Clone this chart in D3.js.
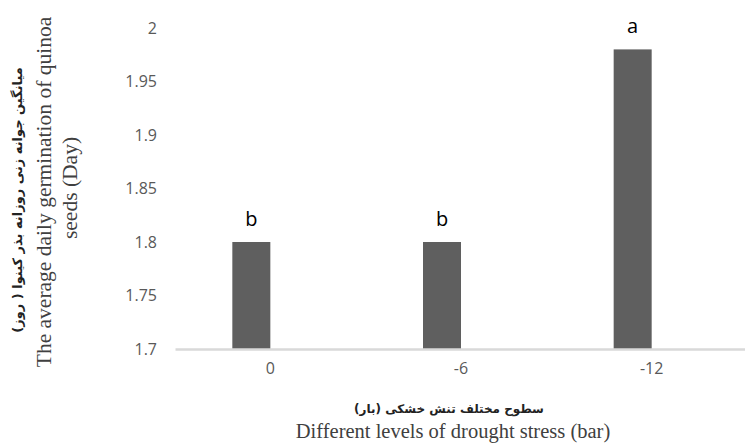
<!DOCTYPE html>
<html>
<head>
<meta charset="utf-8">
<script src="https://cdn.jsdelivr.net/npm/d3@7"></script>
<style>
  body { margin: 0; background: #fff; }
  svg { display: block; }
</style>
</head>
<body>
<svg id="chart" width="745" height="445"></svg>
<script>
// data
var categories = ["0", "-6", "-12"];
var values = [1.8, 1.8, 1.98];
var letters = ["b", "b", "a"];
var yTicks = [1.7, 1.75, 1.8, 1.85, 1.9, 1.95, 2];

var svg = d3.select("#chart");
var width = 745, height = 445;

var x = d3.scaleBand().domain(categories).range([175, 747]);
// excel style: two series slots, second one is empty
var xSub = d3.scaleBand().domain(["s1", "s2"])
  .range([x.bandwidth() / 2 - 38, x.bandwidth() / 2 + 38]);
var y = d3.scaleLinear().domain([1.7, 2]).range([349, 28]);

// y tick labels
var yAxis = d3.axisLeft(y).tickValues(yTicks).tickSize(0).tickPadding(0)
  .tickFormat(function(d) { return String(+d.toFixed(2)); });
var gy = svg.append("g").attr("transform", "translate(157,0)").call(yAxis);
gy.select(".domain").remove();
gy.selectAll("text")
  .attr("fill", "#595959")
  .style("font-family", "'Open Sans', sans-serif")
  .style("font-size", "16px");

// bars
svg.append("g").selectAll("rect")
  .data(values)
  .enter().append("rect")
  .attr("x", function(d, i) { return x(categories[i]) + xSub("s1"); })
  .attr("width", xSub.bandwidth())
  .attr("y", function(d) { return y(d); })
  .attr("height", function(d) { return y(1.7) - y(d); })
  .attr("fill", "#5f5f5f");

// significance letters
svg.append("g").selectAll("text")
  .data(values)
  .enter().append("text")
  .attr("x", function(d, i) { return x(categories[i]) + xSub("s1") + xSub.bandwidth() / 2; })
  .attr("y", function(d) { return y(d) - 16; })
  .attr("text-anchor", "middle")
  .attr("fill", "#000")
  .style("font-family", "'Open Sans', sans-serif")
  .style("font-size", "20px")
  .text(function(d, i) { return letters[i]; });

// x axis
var xAxis = d3.axisBottom(x).tickSize(0).tickPadding(14);
var gx = svg.append("g").attr("transform", "translate(0,349)").call(xAxis);
gx.select(".domain").attr("stroke", "#d9d9d9").attr("stroke-width", 2.5);
gx.selectAll("text")
  .attr("fill", "#595959")
  .style("font-family", "'Open Sans', sans-serif")
  .style("font-size", "16px");

// axis titles
svg.append("text")
  .attr("x", 449).attr("y", 413)
  .attr("text-anchor", "middle")
  .attr("direction", "rtl")
  .attr("fill", "#222")
  .style("font-family", "'DejaVu Sans', sans-serif")
  .style("font-weight", "bold")
  .style("font-size", "12px")
  .text("سطوح مختلف تنش خشکی (بار)");

svg.append("text")
  .attr("x", 453).attr("y", 438)
  .attr("text-anchor", "middle")
  .attr("fill", "#404040")
  .style("font-family", "'Liberation Serif', serif")
  .style("font-size", "20.5px")
  .text("Different levels of drought stress (bar)");

var yt = svg.append("g").attr("transform", "translate(0,193) rotate(-90)");
yt.append("text")
  .attr("x", -7).attr("y", 22)
  .attr("text-anchor", "middle")
  .attr("direction", "rtl")
  .attr("fill", "#222")
  .style("font-family", "'DejaVu Sans', sans-serif")
  .style("font-weight", "bold")
  .style("font-size", "13px")
  .text("میانگین جوانه زنی روزانه بذر کینوا ( روز)");
yt.append("text")
  .attr("x", 1).attr("y", 51)
  .attr("text-anchor", "middle")
  .attr("fill", "#404040")
  .style("font-family", "'Liberation Serif', serif")
  .style("font-size", "21.5px")
  .text("The average daily germination of quinoa");
yt.append("text")
  .attr("x", 5).attr("y", 77)
  .attr("text-anchor", "middle")
  .attr("fill", "#404040")
  .style("font-family", "'Liberation Serif', serif")
  .style("font-size", "21.5px")
  .text("seeds (Day)");
</script>
</body>
</html>
